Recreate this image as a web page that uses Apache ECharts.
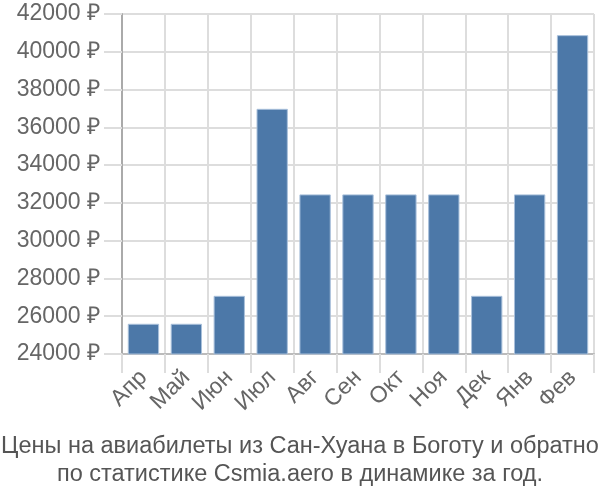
<!DOCTYPE html>
<html><head><meta charset="utf-8">
<script src="https://cdn.jsdelivr.net/npm/echarts@6/dist/echarts.min.js"></script>
<style>html,body{margin:0;padding:0;background:#fff}#c{width:600px;height:500px}</style>
</head><body><div id="c"></div>
<script>
var categories = ['Апр','Май','Июн','Июл','Авг','Сен','Окт','Ноя','Дек','Янв','Фев'];
var prices = [25600, 25600, 27080, 36980, 32450, 32450, 32450, 32450, 27080, 32450, 40880];
var yMin = 24000, yMax = 42000, yStep = 2000;
var titleLines = ['Цены на авиабилеты из Сан-Хуана в Боготу и обратно','по статистике Csmia.aero в динамике за год.'];

var chart = echarts.init(document.getElementById('c'), null, {renderer:'canvas'});
chart.setOption({
  animation: false,
  title: {
    text: titleLines.join('\n'), left: 'center', bottom: 6,
    textStyle: {fontFamily: 'Liberation Sans', fontSize: 23.5, fontWeight: 'normal', color: '#555', lineHeight: 28}
  },
  grid: {left: 122, right: 6, top: 14, bottom: 146},
  xAxis: {
    type: 'category', data: categories,
    axisLine: {lineStyle: {color: '#bbb', width: 2}},
    axisTick: {show: true, length: 19, lineStyle: {color: '#ddd', width: 2}},
    splitLine: {show: true, lineStyle: {color: '#ddd', width: 2}},
    axisLabel: {rotate: 45, margin: 20, fontFamily: 'Liberation Sans', fontSize: 23, color: '#666'}
  },
  yAxis: {
    type: 'value', min: yMin, max: yMax, interval: yStep,
    axisLine: {show: true, lineStyle: {color: '#aaa', width: 2}},
    axisTick: {show: true, length: 18, lineStyle: {color: '#ddd', width: 2}},
    splitLine: {show: true, lineStyle: {color: '#ddd', width: 2}},
    axisLabel: {margin: 22, fontFamily: 'Liberation Sans', fontSize: 23, color: '#666',
      formatter: function(v){ return v + ' ₽'; }}
  },
  series: [{
    type: 'bar', data: prices, barCategoryGap: '27%',
    itemStyle: {color: '#4c78a8', borderColor: '#a9c0db', borderWidth: 1}
  }]
});
</script></body></html>
